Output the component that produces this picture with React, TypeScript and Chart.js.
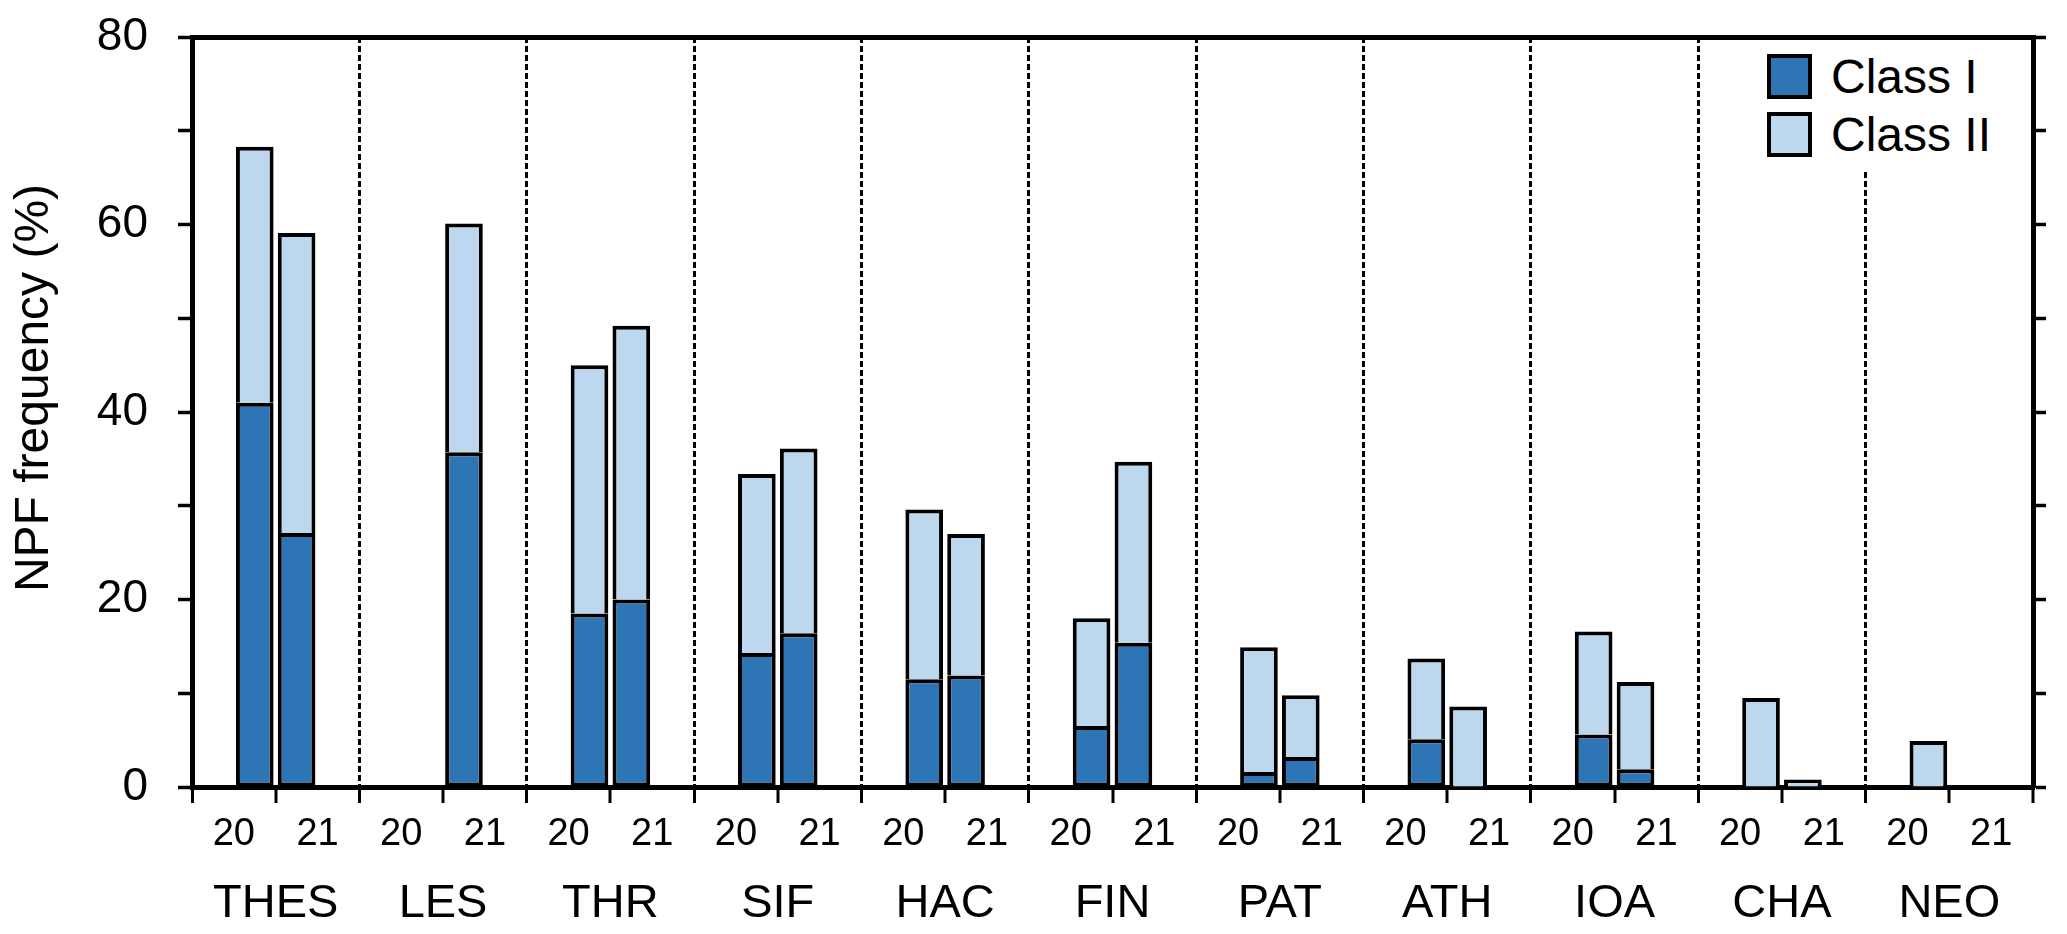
import React, { useEffect, useRef } from "react";
import { Chart, registerables } from "chart.js";

Chart.register(...registerables);

// ---- data ----
const stations = ["THES", "LES", "THR", "SIF", "HAC", "FIN", "PAT", "ATH", "IOA", "CHA", "NEO"];
const years = ["20", "21"];
const classI_2020 = [41.0, 0, 18.5, 14.3, 11.5, 6.5, 1.6, 5.1, 5.6, 0, 0];
const classII_2020 = [27.3, 0, 26.5, 19.1, 18.1, 11.5, 13.3, 8.6, 11.0, 9.5, 4.9];
const classI_2021 = [27.1, 35.7, 20.0, 16.4, 11.9, 15.4, 3.2, 0, 1.9, 0, 0];
const classII_2021 = [32.0, 24.4, 29.2, 19.7, 15.1, 19.3, 6.6, 8.6, 9.3, 0.8, 0];
const yTickLabels = [0, 20, 40, 60, 80];
const seriesNames = ["Class I", "Class II"];
const seriesColors = ["#2E75B6", "#BDD7EE"];
const yTitle = "NPF frequency (%)";

const FONT = "'Liberation Sans', Arial, Helvetica, sans-serif";

// one category per station-year; year 20 bars sit in the right slot, year 21 in the left slot
const xLabels = stations.flatMap(() => years);
const place = (arr: number[], yearIdx: number) =>
  stations.flatMap((_, i) => (yearIdx === 0 ? [arr[i], null] : [null, arr[i]]));

const yTitlePlugin = {
  id: "yTitlePlugin",
  afterDraw(chart: any) {
    const { ctx } = chart;
    ctx.save();
    ctx.translate(35, 388);
    ctx.rotate(-Math.PI / 2);
    ctx.font = `48px ${FONT}`;
    ctx.fillStyle = "#000";
    ctx.textAlign = "center";
    ctx.textBaseline = "middle";
    ctx.fillText(yTitle, 0, 0);
    ctx.restore();
  },
};

const noVPad = (s: any) => {
  s.paddingTop = 0;
  s.paddingBottom = 0;
};

export default function App() {
  const canvasRef = useRef<HTMLCanvasElement | null>(null);

  useEffect(() => {
    if (!canvasRef.current) return;
    Chart.defaults.font.family = FONT;
    const barCommon = {
      xAxisID: "x",
      yAxisID: "y",
      borderColor: "#000",
      borderWidth: 4,
      barPercentage: 0.9,
      categoryPercentage: 1.0,
    };
    const chart = new Chart(canvasRef.current, {
      type: "bar",
      data: {
        labels: xLabels,
        datasets: [
          { ...barCommon, label: seriesNames[0], data: place(classI_2021, 1), stack: "L", backgroundColor: seriesColors[0], borderSkipped: false },
          { ...barCommon, label: seriesNames[0], data: place(classI_2020, 0), stack: "R", backgroundColor: seriesColors[0], borderSkipped: false },
          { ...barCommon, label: seriesNames[1], data: place(classII_2021, 1), stack: "L", backgroundColor: seriesColors[1], borderSkipped: "start" },
          { ...barCommon, label: seriesNames[1], data: place(classII_2020, 0), stack: "R", backgroundColor: seriesColors[1], borderSkipped: "start" },
        ] as any,
      },
      options: {
        responsive: false,
        maintainAspectRatio: false,
        animation: false,
        layout: { padding: 0, autoPadding: false },
        plugins: { legend: { display: false }, tooltip: { enabled: false }, title: { display: false } },
        scales: {
          x: {
            type: "category",
            position: "bottom",
            stacked: true,
            offset: true,
            weight: 1,
            ticks: { autoSkip: false, maxRotation: 0, minRotation: 0, font: { size: 38 }, color: "#000", padding: 9 },
            grid: {
              offset: true,
              drawOnChartArea: true,
              color: "#000",
              lineWidth: (c: any) => (c.index !== undefined && c.index % 2 === 0 ? 3 : 0),
              drawTicks: true,
              tickLength: 16,
              tickWidth: 3,
              tickColor: "#000",
              tickBorderDash: [],
            },
            border: { display: true, color: "#000", width: 5, dash: [6, 3] },
            afterFit: (s: any) => { s.height = 70; },
          },
          xNames: {
            type: "category",
            position: "bottom",
            labels: stations,
            offset: true,
            weight: 2,
            grid: { display: false },
            border: { display: false },
            ticks: { autoSkip: false, maxRotation: 0, minRotation: 0, font: { size: 47 }, color: "#000", padding: 11 },
            afterFit: (s: any) => { s.height = 77; },
          },
          xTop: {
            type: "category",
            position: "top",
            labels: stations,
            offset: true,
            grid: { display: false },
            ticks: { display: false },
            border: { display: true, color: "#000", width: 5 },
            afterFit: (s: any) => { s.height = 37; },
          },
          y: {
            type: "linear",
            position: "left",
            stacked: true,
            min: 0,
            max: 80,
            ticks: {
              stepSize: 10,
              font: { size: 46 },
              color: "#000",
              padding: 30,
              callback: (v: any) => (yTickLabels.includes(Number(v)) ? String(v) : ""),
            },
            grid: { drawOnChartArea: false, drawTicks: true, tickLength: 14, tickWidth: 3.5, tickColor: "#000" },
            border: { display: true, color: "#000", width: 5 },
            afterFit: (s: any) => { s.width = 192; noVPad(s); },
          },
          y2: {
            type: "linear",
            position: "right",
            min: 0,
            max: 80,
            ticks: { display: false, stepSize: 10 },
            grid: { drawOnChartArea: false, drawTicks: true, tickLength: 13, tickWidth: 3.5, tickColor: "#000" },
            border: { display: true, color: "#000", width: 5 },
            afterFit: (s: any) => { s.width = 34; noVPad(s); },
          },
        } as any,
      },
      plugins: [yTitlePlugin],
    });
    return () => chart.destroy();
  }, []);

  const legendItem = (i: number, top: number) => (
    <div key={i} style={{ position: "absolute", left: 15, top, height: 45, display: "flex", alignItems: "center" }}>
      <div
        style={{
          width: 45,
          height: 45,
          boxSizing: "border-box",
          border: "4px solid #000",
          background: seriesColors[i],
          flex: "none",
        }}
      />
      <span style={{ marginLeft: 19, fontFamily: FONT, fontSize: 48, color: "#000", lineHeight: "45px", whiteSpace: "nowrap" }}>
        {seriesNames[i]}
      </span>
    </div>
  );

  return (
    <div style={{ position: "absolute", left: 0, top: 0, width: 2067, height: 934, background: "#fff" }}>
      <canvas ref={canvasRef} width={2067} height={934} style={{ display: "block", width: 2067, height: 934 }} />
      <div style={{ position: "absolute", left: 1752, top: 40, width: 276, height: 132, background: "#fff" }}>
        {legendItem(0, 14)}
        {legendItem(1, 72)}
      </div>
    </div>
  );
}
